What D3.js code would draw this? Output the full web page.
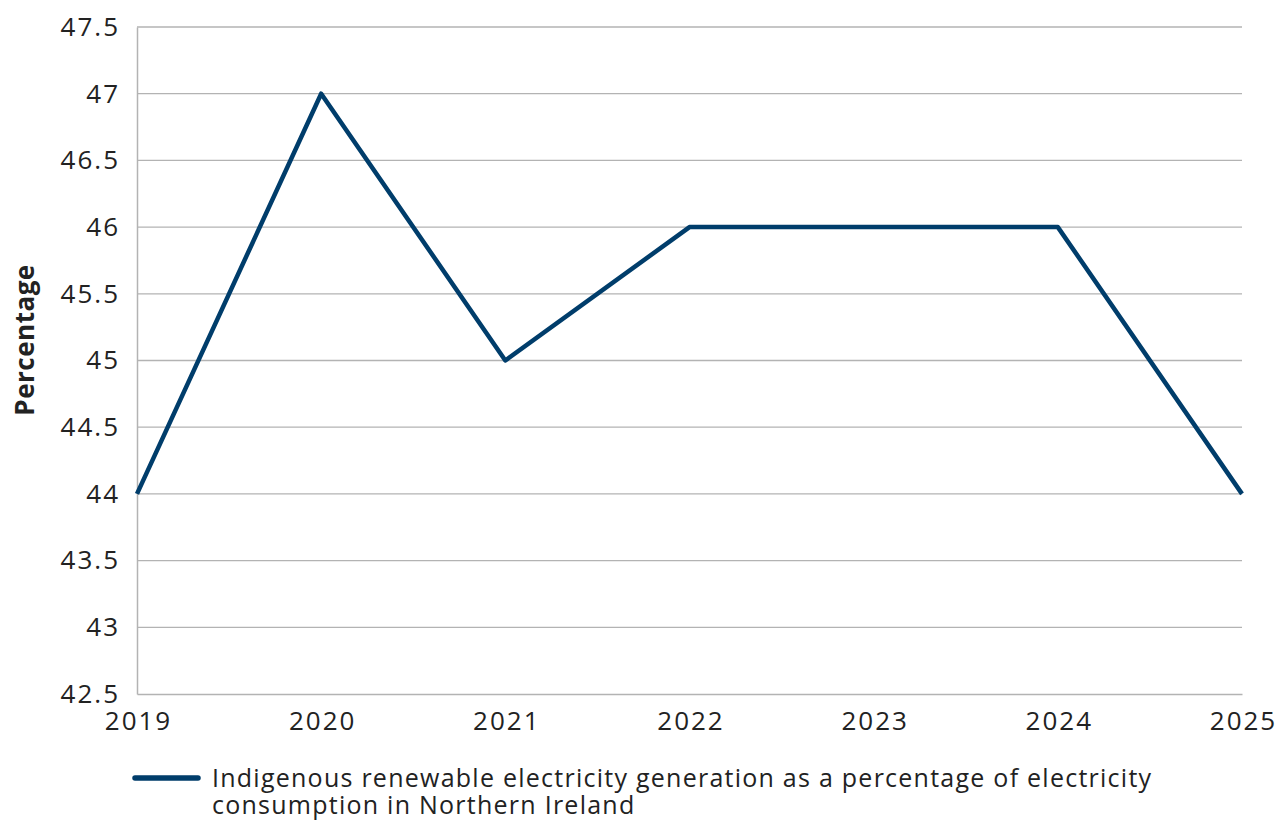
<!DOCTYPE html>
<html>
<head>
<meta charset="utf-8">
<script src="https://cdn.jsdelivr.net/npm/d3@7"></script>
<style>
  html, body { margin: 0; padding: 0; background: #fff; }
  svg { display: block; font-family: "Open Sans", sans-serif; }
</style>
</head>
<body>
<svg id="chart" width="1277" height="820"></svg>
<script>
// Renewable electricity share, Northern Ireland
const years = ["2019", "2020", "2021", "2022", "2023", "2024", "2025"];
const values = [44, 47, 45, 46, 46, 46, 44];
const yTicks = [42.5, 43, 43.5, 44, 44.5, 45, 45.5, 46, 46.5, 47, 47.5];
const seriesNameLines = [
  "Indigenous renewable electricity generation as a percentage of electricity",
  "consumption in Northern Ireland"
];
const yTitle = "Percentage";

const svg = d3.select("#chart");
const margin = { left: 137, right: 35, top: 27, bottom: 126 };
const W = 1277, H = 820;
const FONT = "'Open Sans', sans-serif";
const TICK_FS = 26, TICK_LS = "2px";
const LEG_FS = 25, LEG_LS = "1.25px";

const x = d3.scalePoint().domain(years).range([margin.left, W - margin.right]);
const y = d3.scaleLinear().domain([42.5, 47.5]).range([H - margin.bottom, margin.top]);

// gridlines
svg.append("g")
  .selectAll("line")
  .data(yTicks.filter(t => t !== 42.5))
  .join("line")
  .attr("x1", margin.left).attr("x2", W - margin.right)
  .attr("y1", d => y(d)).attr("y2", d => y(d))
  .attr("stroke", "#b3b3b3").attr("stroke-width", 1.3);

// axes
const yAxis = d3.axisLeft(y).tickValues(yTicks).tickSize(0).tickPadding(17)
  .tickFormat(d => String(d));
const gy = svg.append("g").attr("transform", `translate(${margin.left},0)`).call(yAxis);
gy.select(".domain").attr("stroke", "#b3b3b3").attr("stroke-width", 1.5);
gy.selectAll("text").attr("font-size", TICK_FS).attr("fill", "#222")
  .attr("font-family", FONT).attr("letter-spacing", TICK_LS);

const xAxis = d3.axisBottom(x).tickSize(0).tickPadding(18);
const gx = svg.append("g").attr("transform", `translate(0,${H - margin.bottom})`).call(xAxis);
gx.select(".domain").attr("stroke", "#b3b3b3").attr("stroke-width", 1.5);
gx.selectAll("text").attr("font-size", TICK_FS).attr("fill", "#222")
  .attr("font-family", FONT).attr("letter-spacing", TICK_LS)
  .attr("dx", "1px");

// y title
svg.append("text")
  .attr("transform", `translate(34,340) rotate(-90)`)
  .attr("text-anchor", "middle")
  .attr("font-size", 26).attr("font-weight", "bold").attr("letter-spacing", "0.5px")
  .attr("fill", "#222")
  .text(yTitle);

// series line
const line = d3.line().x((d, i) => x(years[i])).y(d => y(d));
svg.append("path")
  .datum(values)
  .attr("d", line)
  .attr("fill", "none")
  .attr("stroke", "#003d6b")
  .attr("stroke-width", 4.5)
  .attr("stroke-linejoin", "round");

// legend: swatch plus a two-line wrapped label
const lg = svg.append("g");
lg.append("line")
  .attr("x1", 135).attr("x2", 198).attr("y1", 778).attr("y2", 778)
  .attr("stroke", "#003d6b").attr("stroke-width", 5.5).attr("stroke-linecap", "round");
lg.append("text")
  .attr("font-size", LEG_FS).attr("letter-spacing", LEG_LS).attr("fill", "#222")
  .selectAll("tspan")
  .data(seriesNameLines)
  .join("tspan")
  .attr("x", 212)
  .attr("y", (d, i) => 787 + i * 27)
  .text(d => d);
</script>
</body>
</html>
